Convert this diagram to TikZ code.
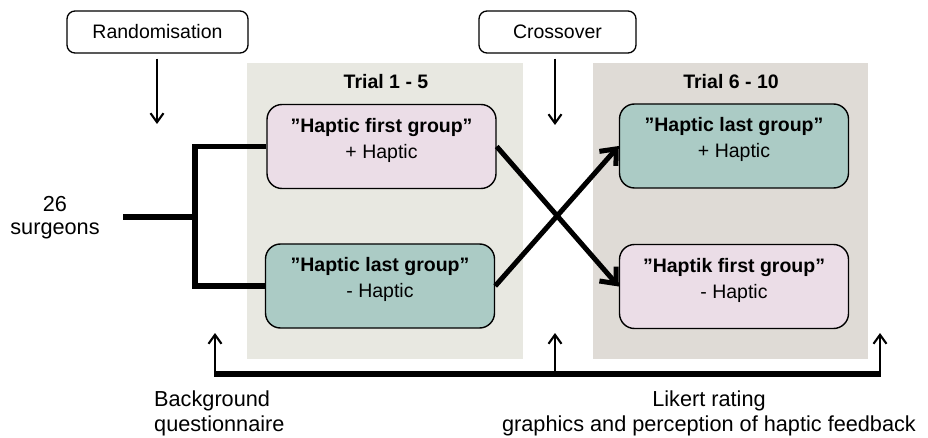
\documentclass[tikz,border=0pt]{standalone}
\usepackage{fontspec}
\setmainfont{Liberation Sans}
\usetikzlibrary{arrows.meta}
\definecolor{pinkfill}{HTML}{EBDDE7}
\definecolor{tealfill}{HTML}{ABCBC5}
\definecolor{panelA}{HTML}{E8E8E1}
\definecolor{panelB}{HTML}{DFDBD6}
\begin{document}
\begin{tikzpicture}[x=1pt,y=-1pt,
  labelbox/.style={draw, line width=1.3pt, rounded corners=8pt, minimum width=181pt, minimum height=42pt, inner sep=0pt, font=\fontsize{19.5}{24}\selectfont},
  groupbox/.style={draw, line width=1.4pt, rounded corners=15pt, minimum width=229pt, minimum height=84pt, inner sep=0pt},
  grouptext/.style={align=center, inner sep=0pt, font=\fontsize{19.5}{26}\selectfont},
  title/.style={inner sep=0pt, font=\bfseries\fontsize{19.5}{24}\selectfont},
  outer/.style={inner sep=0pt, font=\fontsize{21.7}{25}\selectfont},
  thinarrow/.style={line width=2.1pt, -{Straight Barb[length=9pt,width=13pt]}},
  thickline/.style={line width=5.5pt},
  thickarrow/.style={line width=5pt, -{Straight Barb[length=13pt,width=22pt]}}
]
\useasboundingbox (0,0) rectangle (928,438);
% panels
\fill[panelA] (247,63) rectangle (523,359);
\fill[panelB] (593,63) rectangle (868,359);
% top labels
\node[labelbox] (rand) at (157.5,32) {Randomisation};
\node[labelbox, minimum width=157pt] (cross) at (557.5,32) {Crossover};
\coordinate (randtip) at (157,124);
\coordinate (crosstip) at (555,125);
\draw[thinarrow] ([yshift=-5pt]rand.south -| randtip) -- (randtip);
\draw[thinarrow] ([yshift=-5pt]cross.south -| crosstip) -- (crosstip);
% titles
\node[title] (t1) at (386,82) {Trial 1 - 5};
\node[title] (t2) at (731,82) {Trial 6 - 10};
% group boxes
\node[groupbox, fill=pinkfill] (b1) at (381.5,146.5) {};
\node[groupbox, fill=tealfill] (b2) at (380,286) {};
\node[groupbox, fill=tealfill] (b3) at (734,146) {};
\node[groupbox, fill=pinkfill] (b4) at (734,286.5) {};
\node[grouptext] (b1t) at ([yshift=6.5pt]b1.center) {\textbf{”Haptic first group”}\\+ Haptic};
\node[grouptext] (b2t) at ([yshift=6.5pt]b2.center) {\textbf{”Haptic last group”}\\- Haptic};
\node[grouptext] (b3t) at ([yshift=6.5pt]b3.center) {\textbf{”Haptic last group”}\\+ Haptic};
\node[grouptext] (b4t) at ([yshift=6.5pt]b4.center) {\textbf{”Haptik first group”}\\- Haptic};
% surgeons and bracket
\node[outer, align=center, font=\fontsize{21.7}{23}\selectfont] (surg) at (55,218) {26\\surgeons};
\coordinate (stem) at (123,217);
\coordinate (fork) at (195,217);
\draw[thickline] (stem) -- (fork);
\draw[thickline] (b1.west) -| (fork) |- (b2.west);
% crossover arrows
\draw[thickarrow] (b1.east) -- (b4.west);
\draw[thickarrow] (b2.east) -- (b3.west);
% bottom timeline
\coordinate (bl) at (215,374);
\coordinate (bm) at (555,374);
\coordinate (br) at (880,374);
\coordinate (al) at (215,333);
\coordinate (am) at (555,333);
\coordinate (ar) at (880,333);
\draw[thickline] ([xshift=-1pt]bl) -- ([xshift=1pt]br);
\draw[thinarrow] (bl) -- (al);
\draw[thinarrow] (bm) -- (am);
\draw[thinarrow] (br) -- (ar);
\node[outer, anchor=west, align=left] (bq) at (154,413.4) {Background\\questionnaire};
\node[outer, align=center] (lk) at (709,413.4) {Likert rating\\graphics and perception of haptic feedback};
\end{tikzpicture}
\end{document}
